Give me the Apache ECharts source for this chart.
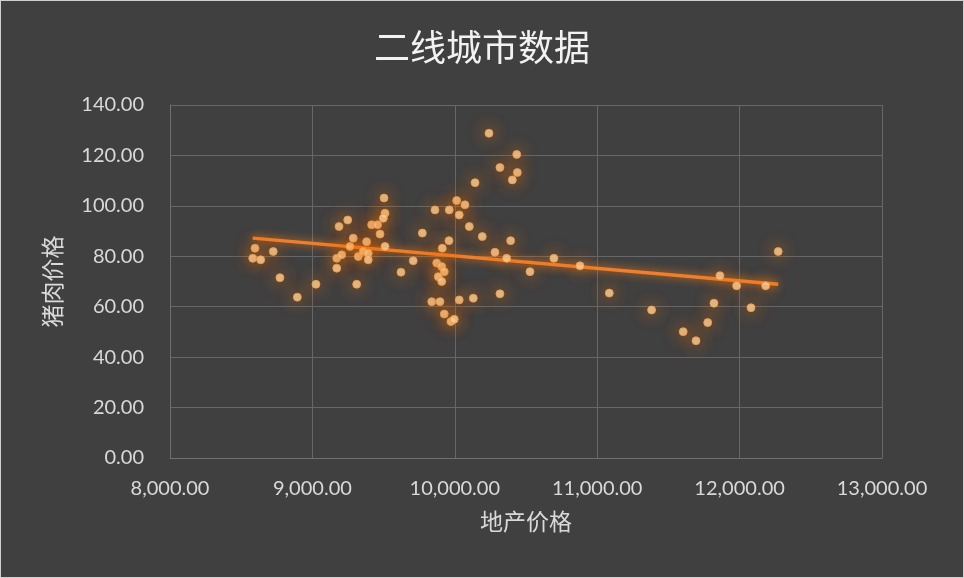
<!DOCTYPE html>
<html>
<head>
<meta charset="utf-8">
<script src="https://cdn.jsdelivr.net/npm/echarts@6/dist/echarts.min.js"></script>
<style>
html,body{margin:0;padding:0;background:#d0d0d0;}
#c{position:absolute;left:1px;top:1px;width:962px;height:576px;}
</style>
</head>
<body>
<div id="c"></div>
<script>
// Data
const houseX = [8597, 8725, 8581, 8637, 8772, 8894, 9025,
  9171, 9206, 9171, 9187, 9248, 9264, 9287, 9322, 9357, 9381, 9392, 9392, 9311,
  9416, 9458, 9475, 9510, 9503, 9510, 9498, 9622, 9708, 9772,
  9959, 9912, 9873, 9908, 9926, 9884, 9908, 9838, 9896, 10031, 10130, 9926, 9973, 9996,
  10240, 10435, 10317, 10439, 10404, 10142, 10013, 10071, 9861, 9961, 10031, 10102,
  10193, 10392, 10282, 10364, 10696, 10528, 10317, 10879,
  11085, 11382, 11604, 11694, 11776, 11820, 11862, 11979, 12080, 12183, 12271];
const porkY = [83.2, 81.9, 79.2, 78.6, 71.5, 63.8, 68.9,
  79.2, 80.6, 75.3, 91.8, 94.4, 83.9, 87.2, 79.9, 81.9, 85.8, 81.2, 78.6, 68.9,
  92.5, 92.5, 88.8, 83.9, 103.1, 97.1, 95.1, 73.7, 78.2, 89.2,
  86.2, 83.2, 77.3, 75.9, 73.9, 71.9, 70.0, 62.0, 62.0, 62.7, 63.4, 57.1, 54.1, 55.0,
  128.8, 120.4, 115.2, 113.2, 110.3, 109.2, 102.1, 100.4, 98.4, 98.4, 96.4, 91.8,
  87.8, 86.2, 81.6, 79.2, 79.2, 73.9, 65.1, 76.2,
  65.4, 58.7, 50.1, 46.5, 53.7, 61.4, 72.3, 68.3, 59.6, 68.3, 81.9];
const trendX = [8581, 12271];
const trendY = [87.2, 68.9];
const xTicks = [8000, 9000, 10000, 11000, 12000, 13000];
const yTicks = [0, 20, 40, 60, 80, 100, 120, 140];
const titleText = '二线城市数据';
const xName = '地产价格';
const yName = '猪肉价格';

const points = houseX.map((x, i) => [x, porkY[i]]);
const trend = trendX.map((x, i) => [x, trendY[i]]);

const chart = echarts.init(document.getElementById('c'));
const numFont = 'Lato, "Open Sans", sans-serif';
const cjkFont = '"Noto Sans CJK SC", sans-serif';
chart.setOption({
  backgroundColor: '#404040',
  animation: false,
  title: {
    text: titleText, left: 'center', top: 23,
    textStyle: {color: '#f2f2f2', fontSize: 36, fontWeight: 'normal', fontFamily: cjkFont}
  },
  grid: {left: 169, right: 81, top: 104, bottom: 119},
  xAxis: {
    type: 'value', min: xTicks[0], max: xTicks[xTicks.length - 1], interval: 1000,
    name: xName, nameLocation: 'middle', nameGap: 52,
    nameTextStyle: {color: '#d9d9d9', fontSize: 23, fontFamily: cjkFont},
    axisLine: {show: true, lineStyle: {color: '#707070', width: 1}},
    axisTick: {show: false},
    splitLine: {show: true, lineStyle: {color: '#676767', width: 1}},
    axisLabel: {
      color: '#d9d9d9', fontSize: 20, margin: 21, fontFamily: numFont,
      formatter: v => v.toLocaleString('en-US', {minimumFractionDigits: 2, maximumFractionDigits: 2})
    }
  },
  yAxis: {
    type: 'value', min: yTicks[0], max: yTicks[yTicks.length - 1], interval: 20,
    name: yName, nameLocation: 'middle', nameGap: 106, nameRotate: 90,
    nameTextStyle: {color: '#d9d9d9', fontSize: 23, fontFamily: cjkFont},
    axisLine: {show: true, lineStyle: {color: '#707070', width: 1}},
    axisTick: {show: false},
    splitLine: {show: true, lineStyle: {color: '#676767', width: 1}},
    axisLabel: {
      color: '#d9d9d9', fontSize: 20, margin: 26, fontFamily: numFont,
      formatter: v => v.toFixed(2)
    }
  },
  series: [
    {
      type: 'line', data: trend, symbol: 'none', z: 3,
      lineStyle: {color: '#ef7f2c', width: 3.5, shadowColor: 'rgba(255,130,20,0.9)', shadowBlur: 8}
    },
    {
      type: 'scatter', data: points, symbol: 'circle', symbolSize: 8, z: 4,
      itemStyle: {
        color: '#ffd6a0', borderColor: '#f59a3e', borderWidth: 1,
        shadowColor: 'rgba(255,120,10,1)', shadowBlur: 16
      }
    }
  ]
});
</script>
</body>
</html>
